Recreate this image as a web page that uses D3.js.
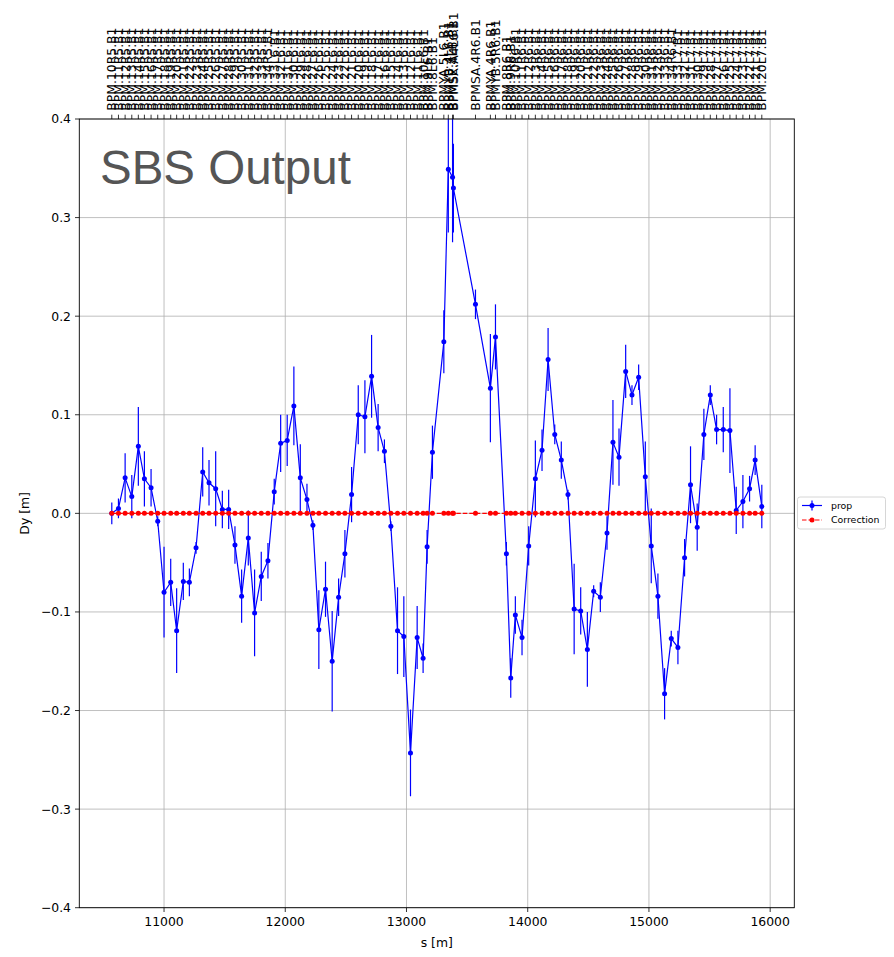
<!DOCTYPE html>
<html>
<head>
<meta charset="utf-8">
<script src="https://cdn.jsdelivr.net/npm/d3@7"></script>
<style>
  html, body { margin: 0; padding: 0; background: #fff; }
  svg { display: block; }
  text { font-family: "DejaVu Sans", sans-serif; }
</style>
</head>
<body>
<svg id="chart" width="894" height="957"></svg>
<script>
// ---------------- DATA ----------------
const bpmNames = [
  "BPM.10R5.B1","BPM.11R5.B1","BPM.12R5.B1","BPM.13R5.B1","BPM.14R5.B1","BPM.15R5.B1","BPM.16R5.B1","BPM.17R5.B1","BPM.18R5.B1","BPM.19R5.B1",
  "BPM.20R5.B1","BPM.21R5.B1","BPM.22R5.B1","BPM.23R5.B1","BPM.24R5.B1","BPM.25R5.B1","BPM.26R5.B1","BPM.27R5.B1","BPM.28R5.B1","BPM.29R5.B1",
  "BPM.30R5.B1","BPM.31R5.B1","BPM.32R5.B1","BPM.33R5.B1","BPM.34R5.B1",
  "BPM.33L6.B1","BPM.32L6.B1","BPM.31L6.B1","BPM.30L6.B1","BPM.29L6.B1","BPM.28L6.B1","BPM.27L6.B1","BPM.26L6.B1","BPM.25L6.B1","BPM.24L6.B1",
  "BPM.23L6.B1","BPM.22L6.B1","BPM.21L6.B1","BPM.20L6.B1","BPM.19L6.B1","BPM.18L6.B1","BPM.17L6.B1","BPM.16L6.B1","BPM.15L6.B1","BPM.14L6.B1",
  "BPM.13L6.B1","BPM.12L6.B1","BPM.11L6.B1","BPM.10L6.B1","BPM.9L6.B1","BPM.8L6.B1",
  "BPMYA.5L6.B1","BPMYB.4L6.B1","BPMSE.4L6.B1","BPMSX.A4L6.B1",
  "BPMSA.4R6.B1","BPMYA.4R6.B1","BPMYB.5R6.B1",
  "BPM.8R6.B1","BPM.9R6.B1","BPM.10R6.B1","BPM.11R6.B1","BPM.12R6.B1","BPM.13R6.B1","BPM.14R6.B1","BPM.15R6.B1","BPM.16R6.B1","BPM.17R6.B1",
  "BPM.18R6.B1","BPM.19R6.B1","BPM.20R6.B1","BPM.21R6.B1","BPM.22R6.B1","BPM.23R6.B1","BPM.24R6.B1","BPM.25R6.B1","BPM.26R6.B1","BPM.27R6.B1",
  "BPM.28R6.B1","BPM.29R6.B1","BPM.30R6.B1","BPM.31R6.B1","BPM.32R6.B1","BPM.33R6.B1","BPM.34R6.B1",
  "BPM.33L7.B1","BPM.32L7.B1","BPM.31L7.B1","BPM.30L7.B1","BPM.29L7.B1","BPM.28L7.B1","BPM.27L7.B1","BPM.26L7.B1","BPM.25L7.B1","BPM.24L7.B1",
  "BPM.23L7.B1","BPM.22L7.B1","BPM.21L7.B1","BPM.20L7.B1"
];

const sPos = [
  10569,10624,10679,10734,10788,10838,10893,10948,11000,11055,
  11104,11159,11209,11264,11319,11371,11426,11481,11533,11585,
  11640,11695,11747,11802,11857,11909,11962,12016,12071,12124,
  12179,12228,12277,12332,12387,12440,12492,12547,12602,12657,
  12712,12766,12818,12871,12926,12978,13033,13088,13137,13170,
  13214,13308,13345,13380,13387,13569,13692,13734,13824,13860,
  13898,13953,14008,14063,14118,14168,14223,14277,14332,14383,
  14437,14492,14544,14599,14654,14703,14753,14808,14860,14915,
  14970,15019,15074,15129,15184,15239,15294,15343,15398,15453,
  15506,15558,15613,15668,15720,15775,15830,15876,15931
];

const dyProp = [
  0.000, 0.005, 0.036, 0.017, 0.068, 0.035, 0.026,-0.008,-0.080,-0.070,
 -0.119,-0.069,-0.070,-0.035, 0.042, 0.031, 0.025, 0.004, 0.004,-0.032,
 -0.084,-0.025,-0.101,-0.064,-0.048, 0.022, 0.071, 0.074, 0.109, 0.036,
  0.014,-0.012,-0.118,-0.077,-0.150,-0.085,-0.041, 0.019, 0.100, 0.098,
  0.139, 0.087, 0.063,-0.013,-0.119,-0.125,-0.243,-0.126,-0.147,-0.034,
  0.062, 0.174, 0.349, 0.341, 0.330, 0.212, 0.127, 0.179,-0.041,-0.167,
 -0.103,-0.126,-0.033, 0.035, 0.064, 0.156, 0.080, 0.054, 0.019,-0.097,
 -0.099,-0.138,-0.079,-0.085,-0.020, 0.072, 0.057, 0.144, 0.120, 0.138,
  0.037,-0.033,-0.084,-0.183,-0.127,-0.136,-0.045, 0.029,-0.014, 0.080,
  0.120, 0.085, 0.085, 0.084, 0.003, 0.012, 0.025, 0.054, 0.007
];

const dyErr = [
  0.011,0.010,0.025,0.022,0.040,0.028,0.019,0.005,0.046,0.024,
  0.043,0.019,0.014,0.006,0.025,0.023,0.038,0.019,0.020,0.019,
  0.027,0.028,0.044,0.025,0.018,0.013,0.029,0.026,0.040,0.034,
  0.016,0.005,0.040,0.028,0.051,0.019,0.024,0.028,0.030,0.037,
  0.042,0.024,0.012,0.005,0.044,0.041,0.044,0.032,0.015,0.017,
  0.027,0.032,0.064,0.066,0.045,0.015,0.055,0.033,0.012,0.020,
  0.019,0.018,0.020,0.039,0.021,0.032,0.010,0.019,0.005,0.046,
  0.024,0.038,0.006,0.015,0.017,0.043,0.029,0.027,0.010,0.013,
  0.036,0.038,0.023,0.026,0.008,0.017,0.019,0.039,0.024,0.026,
  0.010,0.015,0.023,0.043,0.024,0.027,0.013,0.015,0.022
];

const dyCorrection = [
  0,0,0,0,0,0,0,0,0,0, 0,0,0,0,0,0,0,0,0,0, 0,0,0,0,0,0,0,0,0,0,
  0,0,0,0,0,0,0,0,0,0, 0,0,0,0,0,0,0,0,0,0, 0,0,0,0,0,0,0,0,0,0,
  0,0,0,0,0,0,0,0,0,0, 0,0,0,0,0,0,0,0,0,0, 0,0,0,0,0,0,0,0,0,0,
  0,0,0,0,0,0,0,0,0
];

const xTicks = [11000, 12000, 13000, 14000, 15000, 16000];
const yTicks = [-0.4, -0.3, -0.2, -0.1, 0.0, 0.1, 0.2, 0.3, 0.4];
const seriesNames = ["prop", "Correction"];
const titleText = "SBS Output";
const xLabel = "s [m]";
const yLabel = "Dy [m]";

// ---------------- LAYOUT ----------------
const svg = d3.select("#chart");
const L = 79.3, R = 794.3, T = 119, B = 907.7;
const x = d3.scaleLinear().domain([10301, 16199]).range([L, R]);
const y = d3.scaleLinear().domain([-0.4, 0.4]).range([B, T]);
const FS = 12.4;
const tickLen = 4.3, tickPad = 4.0;

const pts = sPos.map((s, i) => ({ s, v: dyProp[i], e: dyErr[i], c: dyCorrection[i], name: bpmNames[i] }));

svg.append("defs").append("clipPath").attr("id", "plotclip")
  .append("rect").attr("x", L).attr("y", T).attr("width", R - L).attr("height", B - T);

// grid
const grid = svg.append("g");
grid.selectAll(".gx").data(xTicks).enter().append("line")
  .attr("x1", d => x(d)).attr("x2", d => x(d)).attr("y1", T).attr("y2", B)
  .attr("stroke", "#b0b0b0").attr("stroke-width", 0.8);
grid.selectAll(".gy").data(yTicks).enter().append("line")
  .attr("x1", L).attr("x2", R).attr("y1", d => y(d)).attr("y2", d => y(d))
  .attr("stroke", "#b0b0b0").attr("stroke-width", 0.8);

// plot
const plot = svg.append("g").attr("clip-path", "url(#plotclip)");
const blue = "#0000ff", red = "#ff0000";

plot.selectAll(".eb").data(pts).enter().append("line")
  .attr("x1", d => x(d.s)).attr("x2", d => x(d.s))
  .attr("y1", d => y(d.v - d.e)).attr("y2", d => y(d.v + d.e))
  .attr("stroke", blue).attr("stroke-width", 1.2);

const line = d3.line().x(d => x(d.s)).y(d => y(d.v));
plot.append("path").datum(pts).attr("d", line)
  .attr("fill", "none").attr("stroke", blue).attr("stroke-width", 1.2);
plot.selectAll(".bm").data(pts).enter().append("circle")
  .attr("cx", d => x(d.s)).attr("cy", d => y(d.v)).attr("r", 2.5).attr("fill", blue);

const lineC = d3.line().x(d => x(d.s)).y(d => y(d.c));
plot.append("path").datum(pts).attr("d", lineC)
  .attr("fill", "none").attr("stroke", red).attr("stroke-width", 1.2)
  .attr("stroke-dasharray", "4.5,2");
plot.selectAll(".rm").data(pts).enter().append("circle")
  .attr("cx", d => x(d.s)).attr("cy", d => y(d.c)).attr("r", 2.5).attr("fill", red);

// title text in plot
svg.append("text").attr("x", 100).attr("y", 184)
  .style("font-family", "'Liberation Sans', Arial, sans-serif")
  .style("font-size", "47.5px").attr("fill", "#555555").text(titleText);

// spines
svg.append("rect").attr("x", L).attr("y", T).attr("width", R - L).attr("height", B - T)
  .attr("fill", "none").attr("stroke", "#000").attr("stroke-width", 0.9);

// bottom axis ticks
const ax = svg.append("g");
ax.selectAll(".xt").data(xTicks).enter().append("line")
  .attr("x1", d => x(d)).attr("x2", d => x(d)).attr("y1", B).attr("y2", B + tickLen)
  .attr("stroke", "#000").attr("stroke-width", 0.8);
ax.selectAll(".xl").data(xTicks).enter().append("text")
  .attr("x", d => x(d)).attr("y", B + tickLen + tickPad + 9.6)
  .attr("text-anchor", "middle").style("font-size", FS + "px").attr("fill", "#000")
  .text(d => d3.format("d")(d));

// left axis ticks
const fmtY = d => (d < 0 ? "\u2212" : "") + Math.abs(d).toFixed(1);
ax.selectAll(".yt").data(yTicks).enter().append("line")
  .attr("x1", L - tickLen).attr("x2", L).attr("y1", d => y(d)).attr("y2", d => y(d))
  .attr("stroke", "#000").attr("stroke-width", 0.8);
ax.selectAll(".yl").data(yTicks).enter().append("text")
  .attr("x", L - tickLen - tickPad).attr("y", d => y(d)).attr("dy", "0.36em")
  .attr("text-anchor", "end").style("font-size", FS + "px").attr("fill", "#000")
  .text(fmtY);

// top axis: BPM names
ax.selectAll(".tt").data(pts).enter().append("line")
  .attr("x1", d => x(d.s)).attr("x2", d => x(d.s)).attr("y1", T - tickLen).attr("y2", T)
  .attr("stroke", "#000").attr("stroke-width", 0.8);
ax.selectAll(".tl").data(pts).enter().append("text")
  .attr("transform", d => `translate(${x(d.s)},${T - tickLen - tickPad}) rotate(-90)`)
  .attr("dy", "0.36em").attr("text-anchor", "start")
  .style("font-size", FS + "px").attr("fill", "#000")
  .text(d => d.name);

// axis labels
svg.append("text").attr("x", (L + R) / 2).attr("y", 946.5).attr("text-anchor", "middle")
  .style("font-size", FS + "px").text(xLabel);
svg.append("text").attr("transform", `translate(29,${(T + B) / 2}) rotate(-90)`)
  .attr("text-anchor", "middle").style("font-size", FS + "px").text(yLabel);

// legend
const lg = svg.append("g");
lg.append("rect").attr("x", 797.5).attr("y", 497).attr("width", 88).attr("height", 32)
  .attr("rx", 2.5).attr("fill", "#fff").attr("fill-opacity", 0.8)
  .attr("stroke", "#cccccc").attr("stroke-width", 0.8);
const lfs = 9.4;
const ly1 = 505.5, ly2 = 520;
lg.append("line").attr("x1", 802).attr("x2", 822).attr("y1", ly1).attr("y2", ly1)
  .attr("stroke", blue).attr("stroke-width", 1.2);
lg.append("line").attr("x1", 812).attr("x2", 812).attr("y1", ly1 - 5).attr("y2", ly1 + 5)
  .attr("stroke", blue).attr("stroke-width", 1.2);
lg.append("circle").attr("cx", 812).attr("cy", ly1).attr("r", 2.5).attr("fill", blue);
lg.append("text").attr("x", 831).attr("y", ly1).attr("dy", "0.36em")
  .style("font-size", lfs + "px").text(seriesNames[0]);
lg.append("line").attr("x1", 802).attr("x2", 822).attr("y1", ly2).attr("y2", ly2)
  .attr("stroke", red).attr("stroke-width", 1.2).attr("stroke-dasharray", "4.5,2");
lg.append("circle").attr("cx", 812).attr("cy", ly2).attr("r", 2.5).attr("fill", red);
lg.append("text").attr("x", 831).attr("y", ly2).attr("dy", "0.36em")
  .style("font-size", lfs + "px").text(seriesNames[1]);
</script>
</body>
</html>
